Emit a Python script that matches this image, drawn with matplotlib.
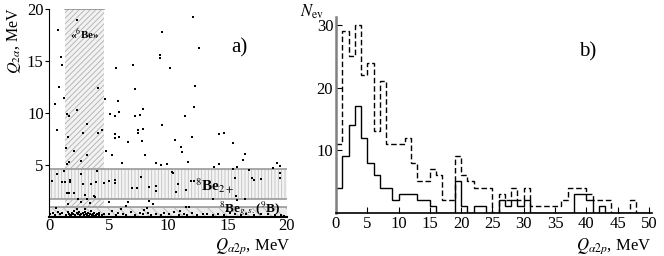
import numpy as np
import matplotlib
matplotlib.use('Agg')
import matplotlib.pyplot as plt

plt.rcParams['font.family'] = ['Liberation Serif', 'DejaVu Serif']
plt.rcParams['mathtext.fontset'] = 'stix'
plt.rcParams['hatch.linewidth'] = 0.6

# ---- panel a) scatter: Q_a2p vs Q_2a (MeV)
q_a2p_hi = [0.7, 2.3, 12.1, 9.5, 12.6, 0.96, 1.04, 9.3, 9.3, 5.6, 7.06, 10.2, 0.84, 4.1, 7.2, 12.3,
            1.2, 4.7, 0.48, 5.75, 7.9, 12.2, 2.3, 5.86, 5.1, 1.46, 1.66, 5.5, 7.2, 7.6, 11.4,
            0.67, 3.17, 4.1, 2.8, 4.4, 1.55, 5.5, 5.55, 5.9, 7.5, 7.85, 7.45, 9.5, 6.6, 4.8, 5.3,
            2.1, 1.4, 3.17, 2.66, 1.7, 1.5, 6.1, 7.8, 8.1, 9.0, 9.4, 9.9, 11.1, 11.2, 11.7, 10.6,
            12.0, 14.3, 14.7, 15.5, 16.5, 16.3, 13.9, 14.3, 15.8, 19.2, 19.4, 18.8, 16.8]
q_2a_hi = [18.0, 19.0, 19.3, 17.8, 16.3, 15.4, 14.6, 15.6, 15.3, 14.3, 14.6, 14.3, 12.5, 12.4, 12.3, 12.6,
           11.5, 11.4, 10.9, 11.2, 10.4, 10.6, 10.3, 10.1, 9.96, 9.93, 9.7, 9.7, 9.7, 9.8, 9.7,
           8.4, 9.0, 8.1, 8.1, 8.4, 7.7, 8.0, 7.6, 7.7, 8.4, 8.5, 8.1, 8.9, 7.2, 6.4, 6.0,
           6.4, 6.6, 6.0, 5.4, 5.25, 5.1, 5.2, 7.3, 6.0, 5.2, 5.0, 5.1, 6.7, 6.3, 5.3, 7.4,
           7.7, 8.0, 8.1, 7.1, 6.1, 5.5, 4.85, 5.1, 4.85, 5.2, 4.9, 4.7, 4.5]

q_a2p_mid = [0.2, 0.67, 1.2, 1.1, 1.35, 1.75, 1.75, 2.7, 2.8, 3.5, 4.0, 3.95, 4.6, 5.0, 5.55, 5.55,
             7.7, 7.0, 7.35, 8.4, 9.0, 9.0, 10.3, 10.4, 10.8, 10.65, 11.5, 11.9, 12.2, 13.8, 15.5,
             15.6, 15.7, 15.8, 16.5, 17.1, 17.2, 17.8, 19.4, 19.4,
             1.5, 1.7, 2.1, 2.4, 3.0, 3.2, 3.8, 3.85, 6.6, 8.4, 8.7, 8.2, 1.6, 2.7, 3.4,
             11.5, 11.8, 5.0, 6.5]
q_2a_mid = [3.5, 4.1, 4.4, 3.4, 3.4, 3.4, 3.6, 4.1, 3.2, 3.2, 4.4, 3.4, 3.3, 3.5, 3.6, 3.3,
            3.9, 2.8, 2.8, 2.9, 2.95, 2.5, 4.3, 4.2, 3.2, 2.4, 2.6, 3.5, 3.5, 1.7, 4.6,
            3.8, 2.0, 1.6, 1.7, 3.8, 3.6, 3.7, 4.2, 3.8,
            2.3, 2.3, 2.3, 1.7, 2.1, 1.7, 2.0, 1.9, 1.4, 1.5, 1.3, 0.9, 1.3, 1.4, 1.35,
            1.0, 1.0, 1.4, 1.1]

q_a2p_lo = [0.1, 0.3, 0.5, 0.7, 0.9, 1.1, 1.4, 1.6, 1.7, 1.8, 1.9, 2.0, 2.1, 2.2, 2.3, 2.4,
            2.5, 2.6, 2.7, 2.8, 2.9, 3.0, 3.1, 3.2, 3.3, 3.4, 3.5, 3.6, 3.7, 3.8, 3.9, 4.0,
            4.2, 4.4, 4.6, 1.75, 2.15, 2.55, 2.95, 3.35, 3.75, 4.15, 2.35, 3.05,
            5.0, 5.3, 5.6, 5.8, 6.2, 6.5, 6.9, 7.2, 7.6, 7.9, 8.3, 8.6, 9.0, 9.4, 9.7,
            10.1, 10.5, 10.9, 11.3, 11.6, 12.0, 12.4, 12.9, 13.3, 13.8, 14.2, 14.7, 15.2,
            15.6, 16.1, 16.6, 17.2, 17.8, 18.4, 19.0, 19.5, 19.8, 0.6, 6.0, 8.0, 11.0, 15.0]
q_2a_lo = [0.3, 0.4, 0.2, 0.5, 0.3, 0.4, 0.2, 0.5, 0.3, 0.2, 0.4, 0.3, 0.6, 0.2, 0.4, 0.3,
           0.5, 0.2, 0.3, 0.4, 0.2, 0.5, 0.3, 0.2, 0.4, 0.3, 0.6, 0.2, 0.3, 0.4, 0.2, 0.3,
           0.4, 0.2, 0.3, 0.15, 0.1, 0.15, 0.1, 0.12, 0.1, 0.15, 0.75, 0.8,
           0.3, 0.6, 0.2, 0.4, 0.3, 0.15, 0.5, 0.2, 0.35, 0.25, 0.4, 0.2, 0.3, 0.15, 0.4,
           0.25, 0.5, 0.2, 0.3, 0.15, 0.35, 0.2, 0.3, 0.25, 0.15, 0.3, 0.2, 0.35,
           0.25, 0.15, 0.3, 0.2, 0.25, 0.3, 0.15, 0.2, 0.1, 0.9, 0.8, 0.7, 0.6, 0.55]

be6_band = (1.35, 4.6)      # Q_a2p range of "6Be" window
be2_band = (1.75, 4.65)     # Q_2a range of 8Be 2+
begs_band = (0.0, 0.95)     # Q_2a range of 8Be g.s.

# ---- panel b) histograms, 1 MeV bins 0..50
edges = np.arange(0, 51, 1)
n_all = [11, 29, 25, 30, 22, 24, 13, 21, 11, 11, 11, 12, 8, 5, 5, 7, 6, 2, 2, 9,
         6, 5, 4, 4, 4, 0, 3, 2, 4, 2, 4, 1, 1, 1, 1, 1, 2, 4, 4, 4,
         3, 2, 2, 2, 0, 0, 0, 2, 0, 0]
n_sel = [4, 9, 14, 17, 12, 8, 6, 4, 4, 2, 3, 3, 3, 2, 2, 1, 0, 0, 0, 5,
         1, 0, 1, 1, 0, 0, 2, 1, 2, 1, 2, 0, 0, 0, 0, 0, 0, 0, 3, 3,
         2, 0, 1, 0, 0, 0, 0, 0, 0, 0]

fig = plt.figure(figsize=(6.64, 2.56), dpi=100)
ax1 = fig.add_axes([0.0742, 0.1523, 0.3578, 0.8114])
ax2 = fig.add_axes([0.506, 0.169, 0.476, 0.765])

# bands
ax1.axvspan(be6_band[0], be6_band[1], ymin=0, ymax=1, facecolor='#f2f2f2', edgecolor='#b0b0b0',
            hatch='//////', lw=0, zorder=0)
ax1.plot(be6_band, [20, 20], color='#909090', lw=1.2, zorder=1)
ax1.axhspan(be2_band[0], be2_band[1], facecolor='#f4f4f4', edgecolor='#c0c0c0', hatch='|||||',
            lw=0, zorder=0)
ax1.axhline(be2_band[0], color='#999999', lw=1.2, zorder=1)
ax1.axhline(be2_band[1], color='#999999', lw=1.2, zorder=1)
ax1.axhspan(begs_band[0], begs_band[1], facecolor='#ececec', edgecolor='#b8b8b8', hatch='\\\\\\',
            lw=0, zorder=0)
ax1.axhline(begs_band[1], color='#999999', lw=1.2, zorder=1)

ax1.scatter(q_a2p_hi, q_2a_hi, s=4, c='k', marker='s', lw=0, zorder=3)
ax1.scatter(q_a2p_mid, q_2a_mid, s=4, c='k', marker='s', lw=0, zorder=3)
ax1.scatter(q_a2p_lo, q_2a_lo, s=4, c='k', marker='s', lw=0, zorder=3)

ax1.set_xlim(0, 20)
ax1.set_ylim(0, 20)
ax1.set_xticks([0, 5, 10, 15, 20])
ax1.set_yticks([5, 10, 15, 20])
ax1.spines['top'].set_visible(False)
ax1.spines['right'].set_visible(False)
ax1.spines['bottom'].set_linewidth(1.5)
ax1.spines['left'].set_linewidth(0.8)
ax1.tick_params(axis='both', labelsize=12, length=3, width=0.8, pad=1)
ax1.tick_params(axis='x', length=0, pad=1)

ax1.text(3.0, 17.7, '«$^6$Be»', fontsize=8, fontweight='bold', ha='center', va='center')
ax1.text(16.0, 16.3, 'a)', fontsize=15, ha='center', va='center')
ax1.text(13.9, 3.0, '$^8$Be$_{2+}$', fontsize=11, fontweight='bold', ha='center', va='center')
ax1.text(16.9, 0.8, r'$^8$Be$_{g.s.}$($^9$B)', fontsize=9.5, fontweight='bold',
         ha='center', va='center')

fig.text(0.437, 0.0, r'$Q_{\alpha 2p}$, MeV', fontsize=12, ha='right', va='bottom')
fig.text(0.021, 0.84, r'$Q_{2\alpha}$, MeV', fontsize=11.5, rotation=90, ha='center', va='center')

# histograms
ax2.stairs(n_all, edges, color='k', lw=1.0, ls=(0, (4, 2)), baseline=None)
ax2.stairs(n_sel, edges, color='k', lw=1.0, baseline=None)
ax2.set_xlim(0, 50.5)
ax2.set_ylim(0, 31.3)
ax2.set_xticks(np.arange(0, 51, 5))
ax2.set_yticks([10, 20, 30])
ax2.spines['top'].set_visible(False)
ax2.spines['right'].set_visible(False)
ax2.spines['left'].set_color('#808080')
ax2.spines['left'].set_linewidth(1.8)
ax2.spines['bottom'].set_linewidth(1.2)
ax2.tick_params(axis='both', direction='in', labelsize=12, length=4, width=0.8, pad=2)
ax2.text(40.2, 25.7, 'b)', fontsize=15, ha='center', va='center')

fig.text(0.452, 0.955, r'$N_{\rm ev}$', fontsize=12, ha='left', va='center')
fig.text(0.98, 0.0, r'$Q_{\alpha 2p}$, MeV', fontsize=12, ha='right', va='bottom')

fig.savefig('out.png', dpi=100)
